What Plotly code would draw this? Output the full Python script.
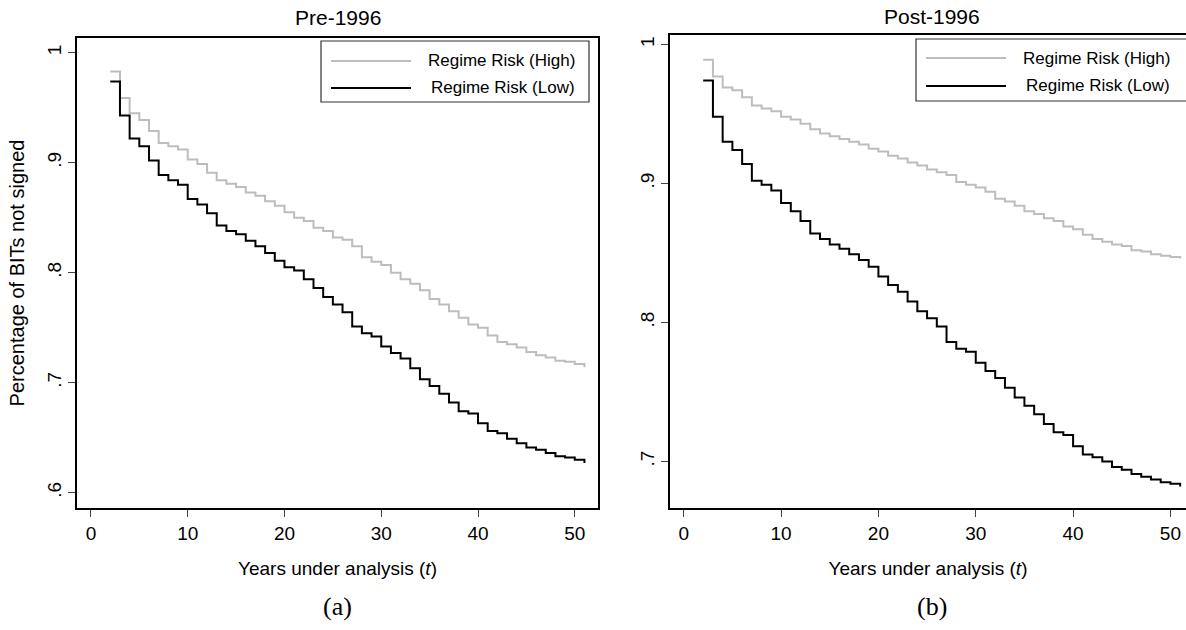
import plotly.graph_objects as go

# ---------------- data ----------------
years = list(range(2, 52))

pre_high = [0.983, 0.959, 0.945, 0.939, 0.929, 0.918, 0.915, 0.912, 0.903, 0.899,
            0.891, 0.884, 0.881, 0.878, 0.873, 0.870, 0.865, 0.861, 0.855, 0.850,
            0.847, 0.841, 0.838, 0.832, 0.830, 0.824, 0.814, 0.810, 0.807, 0.800,
            0.794, 0.790, 0.784, 0.776, 0.771, 0.765, 0.759, 0.753, 0.750, 0.743,
            0.737, 0.735, 0.732, 0.728, 0.725, 0.723, 0.720, 0.719, 0.717, 0.714]
pre_low = [0.974, 0.943, 0.922, 0.915, 0.902, 0.889, 0.884, 0.880, 0.867, 0.862,
           0.854, 0.843, 0.838, 0.835, 0.829, 0.824, 0.818, 0.811, 0.805, 0.802,
           0.794, 0.786, 0.778, 0.771, 0.764, 0.751, 0.745, 0.742, 0.733, 0.727,
           0.722, 0.713, 0.703, 0.697, 0.690, 0.682, 0.674, 0.672, 0.663, 0.656,
           0.654, 0.649, 0.645, 0.641, 0.639, 0.636, 0.633, 0.632, 0.630, 0.627]
post_high = [0.989, 0.977, 0.969, 0.967, 0.962, 0.956, 0.954, 0.952, 0.948, 0.946,
             0.943, 0.939, 0.936, 0.934, 0.932, 0.930, 0.928, 0.925, 0.923, 0.920,
             0.918, 0.915, 0.913, 0.910, 0.908, 0.906, 0.901, 0.899, 0.897, 0.894,
             0.889, 0.887, 0.884, 0.880, 0.878, 0.875, 0.873, 0.869, 0.867, 0.863,
             0.860, 0.858, 0.856, 0.855, 0.852, 0.851, 0.849, 0.848, 0.847, 0.846]
post_low = [0.974, 0.948, 0.930, 0.924, 0.914, 0.902, 0.899, 0.895, 0.886, 0.880,
            0.873, 0.864, 0.860, 0.856, 0.853, 0.849, 0.845, 0.840, 0.833, 0.827,
            0.822, 0.815, 0.808, 0.803, 0.797, 0.786, 0.781, 0.779, 0.771, 0.765,
            0.760, 0.753, 0.746, 0.740, 0.734, 0.727, 0.721, 0.719, 0.711, 0.705,
            0.703, 0.700, 0.696, 0.694, 0.691, 0.689, 0.687, 0.685, 0.684, 0.682]

x_ticks = [0, 10, 20, 30, 40, 50]
y_ticks_pre = [0.6, 0.7, 0.8, 0.9, 1.0]
y_ticks_post = [0.7, 0.8, 0.9, 1.0]
y_text_pre = [".6", ".7", ".8", ".9", "1"]
y_text_post = [".7", ".8", ".9", "1"]
series_names = ["Regime Risk (High)", "Regime Risk (Low)"]
panel_titles = ["Pre-1996", "Post-1996"]
panel_labels = ["(a)", "(b)"]

# ---------------- styling ----------------
W, H = 1186, 630
GRAY = "#bdbdbd"
BLACK = "#000000"
FONT = "Liberation Sans, Arial, sans-serif"
TICK_SIZE = 19
XTITLE_SIZE = 19
YTITLE_SIZE = 20


def px(x):
    return x / W


def py(y):
    return 1 - y / H


fig = go.Figure()
for vals, col, name in [(pre_high, GRAY, series_names[0]), (pre_low, BLACK, series_names[1])]:
    fig.add_trace(go.Scatter(x=years, y=vals, mode="lines", line=dict(color=col, width=2, shape="hv"),
                             name=name, showlegend=False, xaxis="x", yaxis="y"))
for vals, col, name in [(post_high, GRAY, series_names[0]), (post_low, BLACK, series_names[1])]:
    fig.add_trace(go.Scatter(x=years, y=vals, mode="lines", line=dict(color=col, width=2, shape="hv"),
                             name=name, showlegend=False, xaxis="x2", yaxis="y2"))

axis_common = dict(showgrid=False, zeroline=False, showline=True, linecolor="black", linewidth=1.5,
                   ticks="outside", ticklen=7, tickwidth=1, tickcolor="#444",
                   tickfont=dict(family=FONT, size=TICK_SIZE, color="black"))

xtitle = "Years under analysis (<i>t</i>)"
fig.update_layout(
    width=W, height=H, margin=dict(l=0, r=0, t=0, b=0),
    paper_bgcolor="white", plot_bgcolor="white",
    font=dict(family=FONT, color="black"),
    xaxis=dict(domain=[px(77), px(598)], range=[-1.44, 52.4], tickvals=x_ticks, mirror=True,
               anchor="y", title=dict(text=xtitle, font=dict(size=XTITLE_SIZE), standoff=19),
               **axis_common),
    yaxis=dict(domain=[py(508), py(38)], range=[0.586, 1.0135], tickvals=y_ticks_pre, ticktext=y_text_pre,
               tickangle=-90, mirror=True, anchor="x",
               title=dict(text="Percentage of BITs not signed", font=dict(size=YTITLE_SIZE), standoff=14),
               **axis_common),
    xaxis2=dict(domain=[px(670), 1.0], range=[-1.41, 51.6], tickvals=x_ticks, mirror=True,
                anchor="y2", title=dict(text=xtitle, font=dict(size=XTITLE_SIZE), standoff=19),
                **axis_common),
    yaxis2=dict(domain=[py(508), py(35)], range=[0.6665, 1.0068], tickvals=y_ticks_post, ticktext=y_text_post,
                tickangle=-90, mirror=False, anchor="x2", **axis_common),
)

annotations = []
shapes = []
# panel titles and sub-labels
for cx, title, lab, ty in [(337.5, panel_titles[0], panel_labels[0], 17), (932, panel_titles[1], panel_labels[1], 16)]:
    annotations.append(dict(x=px(cx), y=py(ty), xref="paper", yref="paper", text=title, showarrow=False,
                            font=dict(family=FONT, size=21, color="black"), xanchor="center", yanchor="middle"))
    annotations.append(dict(x=px(cx), y=py(606), xref="paper", yref="paper", text=lab, showarrow=False,
                            font=dict(family="Liberation Serif, Times New Roman, serif", size=26, color="black"),
                            xanchor="center", yanchor="middle"))

# legends (Stata style boxes)
for (bx0, bx1, by0, by1, lx0, lx1, ly1, ly2, tx) in [
        (321, 589, 41, 102, 331, 411, 61, 88, 577),
        (916, 1200, 39, 101, 926, 1006, 58, 86, 1172)]:
    shapes.append(dict(type="rect", xref="paper", yref="paper", x0=px(bx0), x1=px(bx1), y0=py(by1), y1=py(by0),
                       line=dict(color="#333", width=1.2), fillcolor="white", layer="above"))
    for ly, col, name in [(ly1, GRAY, series_names[0]), (ly2, BLACK, series_names[1])]:
        shapes.append(dict(type="line", xref="paper", yref="paper", x0=px(lx0), x1=px(lx1), y0=py(ly), y1=py(ly),
                           line=dict(color=col, width=2), layer="above"))
        annotations.append(dict(x=px(tx), y=py(ly), xref="paper", yref="paper", text=name, showarrow=False,
                                font=dict(family=FONT, size=17, color="black"), xanchor="right", yanchor="middle"))

fig.update_layout(annotations=annotations, shapes=shapes)
fig.write_html("out.html")
